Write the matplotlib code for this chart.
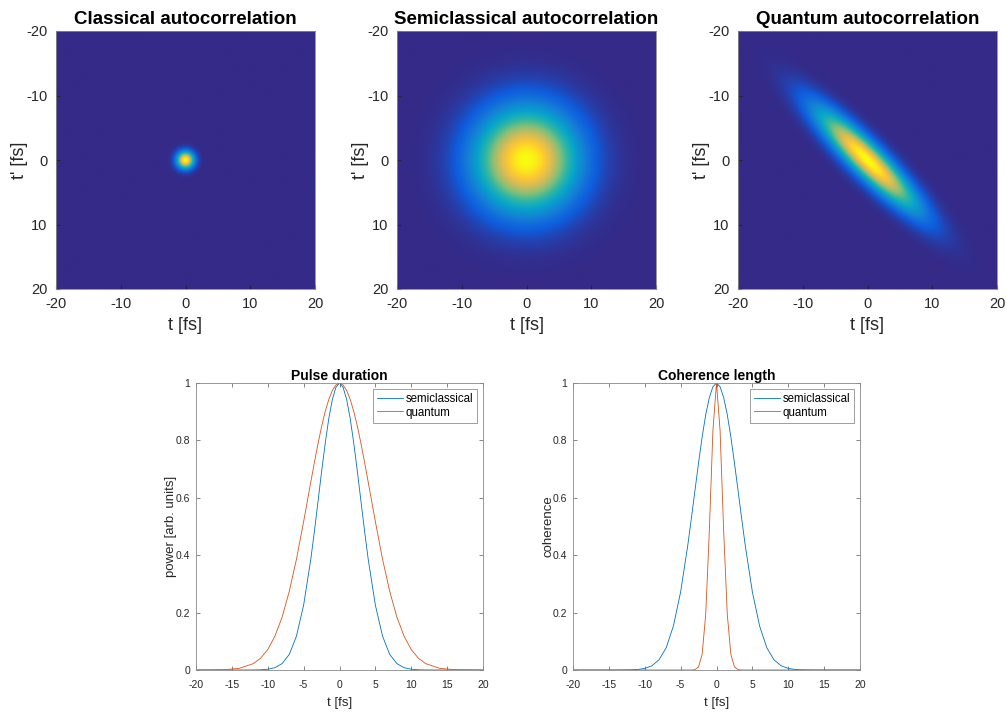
import numpy as np
import matplotlib
matplotlib.use("Agg")
import matplotlib.pyplot as plt
from matplotlib.colors import LinearSegmentedColormap

plt.rcParams['font.family'] = ['Liberation Sans', 'DejaVu Sans']
plt.rcParams['axes.unicode_minus'] = False

# parula-like colormap
parula_colors = ['#352a87', '#0f5cdd', '#1481d6', '#06a4ca', '#2eb7a4',
                 '#87bf77', '#d1bb59', '#fec832', '#f9fb0e']
parula = LinearSegmentedColormap.from_list('parula', parula_colors)

# --- top row: autocorrelation maps (Gaussian widths, fs)
classical_width = 0.9
semiclassical_width = 5.4
quantum_long_width = 7.2    # along t = t'
quantum_short_width = 1.6   # across t = -t'

t = [-20, -16, -14, -12, -11, -10, -9, -8, -7, -6, -5, -4, -3.5, -3, -2.5,
     -2, -1.5, -1, -0.5, 0, 0.5, 1, 1.5, 2, 2.5, 3, 3.5, 4, 5, 6, 7, 8, 9,
     10, 11, 12, 14, 16, 20]

pulse_semiclassical = [0, 0, 0, 0.0002, 0.0008, 0.0026, 0.0081, 0.0223, 0.0543,
                       0.118, 0.226, 0.386, 0.483, 0.586, 0.690, 0.788, 0.875,
                       0.942, 0.985, 1.0, 0.985, 0.942, 0.875, 0.788, 0.690,
                       0.586, 0.483, 0.386, 0.226, 0.118, 0.0543, 0.0223,
                       0.0081, 0.0026, 0.0008, 0.0002, 0, 0, 0]
pulse_quantum = [0, 0.0012, 0.0056, 0.0223, 0.0409, 0.0712, 0.118, 0.184, 0.274,
                 0.386, 0.517, 0.655, 0.723, 0.788, 0.848, 0.900, 0.942, 0.974,
                 0.993, 1.0, 0.993, 0.974, 0.942, 0.900, 0.848, 0.788, 0.723,
                 0.655, 0.517, 0.386, 0.274, 0.184, 0.118, 0.0712, 0.0409,
                 0.0223, 0.0056, 0.0012, 0]
coh_semiclassical = [0, 0, 0, 0.0006, 0.0018, 0.0055, 0.0148, 0.0358, 0.0782,
                     0.154, 0.272, 0.435, 0.529, 0.626, 0.722, 0.812, 0.890,
                     0.949, 0.987, 1.0, 0.987, 0.949, 0.890, 0.812, 0.722,
                     0.626, 0.529, 0.435, 0.272, 0.154, 0.0782, 0.0358,
                     0.0148, 0.0055, 0.0018, 0.0006, 0, 0, 0]
coh_quantum = [0, 0, 0, 0, 0, 0, 0, 0, 0, 0, 0, 0, 0.0001, 0.0015, 0.0107,
               0.0549, 0.195, 0.484, 0.834, 1.0, 0.834, 0.484, 0.195, 0.0549,
               0.0107, 0.0015, 0.0001, 0, 0, 0, 0, 0, 0, 0, 0, 0, 0, 0, 0]

blue = '#0072BD'
orange = '#D95319'
W, H = 1006, 713

fig = plt.figure(figsize=(W / 100, H / 100), dpi=100)

# image grid
g = np.linspace(-20, 20, 401)
T, TP = np.meshgrid(g, g)
U = (T + TP) / np.sqrt(2)
V = (T - TP) / np.sqrt(2)
maps = [
    ('Classical autocorrelation',
     np.exp(-(T**2 + TP**2) / (2 * classical_width**2)), 56),
    ('Semiclassical autocorrelation',
     np.exp(-(T**2 + TP**2) / (2 * semiclassical_width**2)), 397),
    ('Quantum autocorrelation',
     np.exp(-U**2 / (2 * quantum_long_width**2) - V**2 / (2 * quantum_short_width**2)), 738),
]
for title, img, left in maps:
    ax = fig.add_axes([left / W, (H - 289) / H, 259 / W, 258 / H])
    ax.imshow(img, cmap=parula, extent=[-20, 20, 20, -20], aspect='auto',
              interpolation='bilinear')
    ax.set_xticks([-20, -10, 0, 10, 20])
    ax.set_yticks([-20, -10, 0, 10, 20])
    ax.tick_params(labelsize=10.5, colors='#262626', direction='in', length=3,
                   pad=6)
    ax.set_xlabel('t [fs]', fontsize=13, color='#262626', labelpad=4)
    ax.set_ylabel("t' [fs]", fontsize=13, color='#262626', labelpad=-1)
    ax.set_title(title, fontsize=13.5, fontweight='bold', pad=5)
    for s in ax.spines.values():
        s.set_color('#888888')
        s.set_linewidth(0.6)

# line plots
panels = [
    ('Pulse duration', pulse_semiclassical, pulse_quantum,
     'power [arb. units]', 196),
    ('Coherence length', coh_semiclassical, coh_quantum, 'coherence', 573),
]
for title, ys, yq, ylab, left in panels:
    ax = fig.add_axes([left / W, (H - 670) / H, 287 / W, 287 / H])
    ax.plot(t, ys, color=blue, lw=0.6, label='semiclassical')
    ax.plot(t, yq, color=orange, lw=0.6, label='quantum')
    ax.set_xlim(-20, 20)
    ax.set_ylim(0, 1)
    ax.set_xticks(np.arange(-20, 21, 5))
    ax.set_yticks([0, 0.2, 0.4, 0.6, 0.8, 1])
    ax.set_yticklabels(['0', '0.2', '0.4', '0.6', '0.8', '1'])
    ax.tick_params(labelsize=7.5, colors='#262626', direction='in', length=3,
                   top=True, right=True, width=0.5, pad=4)
    ax.tick_params(axis='x', pad=7)
    ax.tick_params(axis='both', which='both', color='#555555')
    ax.set_xlabel('t [fs]', fontsize=9.5, color='#262626', labelpad=5)
    ax.set_ylabel(ylab, fontsize=9.5, color='#262626', labelpad=-1)
    ax.set_title(title, fontsize=10, fontweight='bold', pad=2)
    for s in ax.spines.values():
        s.set_color('#888888')
        s.set_linewidth(0.6)
    leg = ax.legend(loc='upper right', fontsize=8.3, frameon=True, fancybox=False,
                    handlelength=2.3, borderaxespad=0.5, borderpad=0.35,
                    labelspacing=0.15, handletextpad=0.2)
    leg.get_frame().set_edgecolor('#555555')
    leg.get_frame().set_linewidth(0.5)

fig.savefig('out.png', dpi=100)
